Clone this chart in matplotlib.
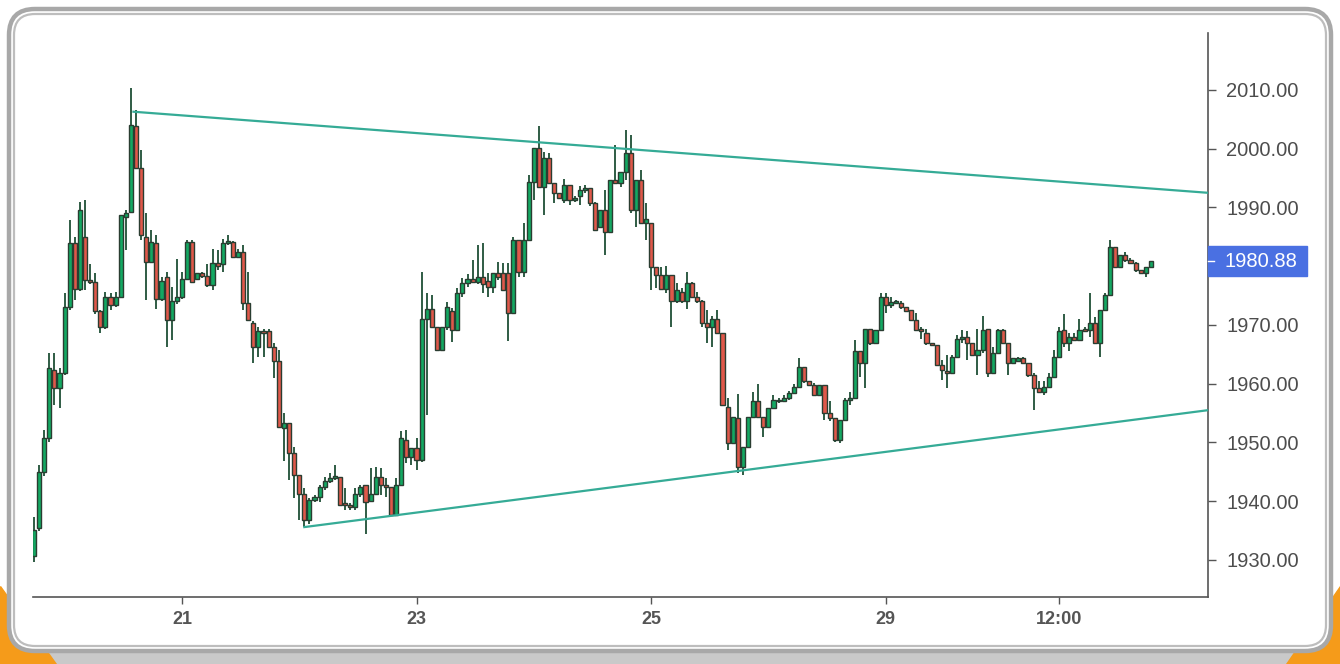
import matplotlib
matplotlib.use("Agg")
import numpy as np
import matplotlib.pyplot as plt
from matplotlib.patches import FancyBboxPatch, Polygon, Rectangle
from matplotlib import transforms

# hourly candles
opens = [1930.6, 1935.4, 1945.0, 1950.7, 1962.4, 1959.2, 1961.8, 1973.1, 1983.9, 1976.2,
         1985.0, 1977.7, 1977.4, 1972.3, 1969.7, 1974.8, 1973.4, 1974.8, 1988.4, 1989.3,
         2003.8, 1996.7, 1985.0, 1980.8, 1983.9, 1974.5, 1978.2, 1970.9, 1974.0, 1974.8,
         1977.9, 1984.2, 1977.9, 1978.8, 1978.3, 1976.8, 1980.5, 1980.3, 1983.9, 1984.2,
         1981.6, 1982.5, 1973.7, 1970.3, 1966.3, 1968.9, 1968.9, 1966.3, 1963.8, 1952.5,
         1953.3, 1948.2, 1944.5, 1941.3, 1936.8, 1940.2, 1940.8, 1942.5, 1943.4, 1944.0,
         1944.2, 1939.6, 1939.4, 1939.1, 1941.3, 1942.8, 1940.1, 1941.3, 1944.2, 1942.8,
         1942.5, 1937.7, 1942.8, 1950.4, 1947.6, 1949.0, 1947.0, 1971.1, 1972.7, 1969.7,
         1965.7, 1969.7, 1972.3, 1969.1, 1975.4, 1977.1, 1977.9, 1977.3, 1978.2, 1977.5,
         1976.5, 1978.8, 1978.8, 1978.8, 1972.0, 1984.5, 1979.1, 1984.5, 1994.4, 2000.1,
         1993.5, 1998.4, 1994.1, 1992.4, 1991.3, 1993.8, 1991.3, 1992.0, 1993.0, 1993.3,
         1990.7, 1986.7, 1989.6, 1985.9, 1994.7, 1994.1, 1996.1, 1999.2, 1989.6, 1994.7,
         1987.3, 1987.3, 1979.9, 1978.5, 1976.2, 1978.5, 1974.0, 1975.7, 1974.0, 1977.1,
         1974.8, 1974.0, 1970.3, 1969.7, 1971.1, 1968.6, 1956.1, 1949.9, 1954.1, 1945.9,
         1949.3, 1954.4, 1957.0, 1954.4, 1952.7, 1955.8, 1957.2, 1957.0, 1957.5, 1958.4,
         1959.5, 1962.9, 1960.4, 1959.8, 1958.1, 1959.8, 1955.0, 1954.1, 1950.4, 1953.8,
         1957.3, 1957.6, 1965.5, 1963.5, 1969.4, 1966.9, 1969.1, 1974.8, 1973.4, 1973.8,
         1973.7, 1973.1, 1972.5, 1970.9, 1969.4, 1968.6, 1966.9, 1966.6, 1963.2, 1962.1,
         1961.8, 1964.6, 1967.7, 1968.0, 1966.9, 1964.9, 1965.7, 1969.4, 1961.9, 1965.2,
         1969.1, 1966.9, 1963.5, 1963.8, 1964.3, 1963.5, 1961.5, 1959.2, 1958.6, 1959.5,
         1961.2, 1964.6, 1969.1, 1966.9, 1968.0, 1967.4, 1969.1, 1969.1, 1970.3, 1966.9,
         1972.5, 1975.1, 1983.3, 1979.9, 1981.9, 1981.1, 1980.5, 1979.4, 1978.8, 1979.9]
highs = [1937.4, 1946.2, 1952.1, 1965.2, 1965.2, 1962.6, 1975.4, 1987.9, 1985.0, 1991.0,
         1991.3, 1980.3, 1978.8, 1972.6, 1975.7, 1975.4, 1975.7, 1988.7, 1989.6, 2010.3,
         2006.6, 1999.8, 1989.0, 1986.2, 1985.3, 1978.2, 1979.0, 1976.4, 1981.3, 1979.1,
         1984.5, 1984.5, 1978.8, 1979.1, 1980.3, 1983.0, 1982.8, 1984.7, 1985.3, 1984.3,
         1983.0, 1983.6, 1979.1, 1970.6, 1969.7, 1969.4, 1969.4, 1966.9, 1965.7, 1955.0,
         1953.3, 1949.3, 1944.5, 1942.2, 1940.5, 1941.1, 1942.8, 1944.2, 1944.8, 1946.2,
         1944.2, 1942.2, 1939.7, 1942.2, 1942.8, 1942.8, 1945.6, 1945.9, 1945.6, 1943.9,
         1942.5, 1944.0, 1951.9, 1952.1, 1949.0, 1950.7, 1979.1, 1975.4, 1975.1, 1969.7,
         1969.7, 1973.9, 1972.9, 1976.3, 1978.0, 1978.6, 1981.1, 1983.6, 1983.9, 1978.8,
         1978.8, 1980.8, 1980.5, 1980.5, 1985.0, 1984.5, 1987.3, 1995.5, 2000.1, 2003.8,
         1999.5, 1999.2, 1994.1, 1992.4, 1994.9, 1993.8, 1991.9, 1993.7, 1993.8, 1993.3,
         1991.0, 1989.6, 1993.0, 1994.7, 2000.7, 1996.1, 2003.2, 2002.3, 1994.7, 1996.4,
         1990.7, 1987.3, 1979.9, 1979.9, 1980.1, 1978.5, 1977.1, 1976.3, 1979.1, 1977.4,
         1975.7, 1974.3, 1972.6, 1971.6, 1972.6, 1968.6, 1957.5, 1954.4, 1958.3, 1949.3,
         1954.4, 1958.6, 1959.9, 1954.4, 1955.8, 1958.1, 1957.5, 1958.1, 1958.8, 1960.0,
         1964.3, 1962.9, 1960.4, 1960.1, 1959.8, 1959.8, 1957.0, 1954.1, 1953.8, 1957.5,
         1958.6, 1967.4, 1965.5, 1969.4, 1969.4, 1969.1, 1975.4, 1975.4, 1974.8, 1974.2,
         1974.0, 1973.1, 1972.5, 1972.0, 1969.7, 1969.4, 1966.9, 1966.6, 1964.0, 1964.9,
         1964.9, 1968.3, 1969.1, 1968.9, 1966.9, 1969.4, 1971.6, 1969.4, 1966.3, 1969.4,
         1969.4, 1966.9, 1964.3, 1964.5, 1964.6, 1963.5, 1961.8, 1960.4, 1960.4, 1961.8,
         1965.7, 1969.7, 1971.9, 1968.6, 1968.6, 1971.1, 1969.7, 1975.4, 1971.4, 1972.5,
         1975.4, 1984.5, 1983.3, 1981.9, 1982.5, 1981.4, 1980.8, 1979.4, 1979.9, 1980.9]
lows = [1929.7, 1935.0, 1944.3, 1950.1, 1956.4, 1955.8, 1961.5, 1972.5, 1974.3, 1975.8,
        1976.0, 1976.9, 1971.9, 1968.6, 1969.4, 1972.5, 1973.1, 1974.6, 1982.8, 1989.0,
        1996.5, 1984.5, 1974.3, 1980.5, 1972.8, 1974.0, 1966.3, 1967.4, 1973.5, 1974.5,
        1977.6, 1977.1, 1977.6, 1978.0, 1976.5, 1976.0, 1979.4, 1979.1, 1983.6, 1981.4,
        1981.6, 1972.6, 1970.9, 1963.5, 1964.6, 1964.6, 1966.3, 1960.9, 1952.4, 1946.9,
        1943.6, 1940.5, 1936.8, 1935.7, 1936.2, 1939.9, 1939.9, 1941.9, 1943.1, 1943.7,
        1939.4, 1938.5, 1938.5, 1938.5, 1940.8, 1934.5, 1939.9, 1941.3, 1941.0, 1940.8,
        1937.7, 1937.7, 1942.8, 1946.5, 1946.2, 1945.3, 1946.7, 1954.7, 1969.7, 1965.5,
        1965.7, 1969.1, 1967.1, 1969.1, 1974.8, 1976.5, 1977.2, 1977.0, 1975.4, 1974.8,
        1975.4, 1977.7, 1976.0, 1967.2, 1972.0, 1978.2, 1978.2, 1984.5, 1991.3, 1993.5,
        1988.7, 1994.1, 1990.7, 1991.6, 1990.7, 1990.4, 1991.0, 1990.4, 1992.4, 1990.2,
        1986.0, 1986.7, 1981.9, 1985.9, 1994.4, 1993.5, 1994.7, 1989.0, 1986.7, 1987.3,
        1984.5, 1976.0, 1976.3, 1976.2, 1975.4, 1969.7, 1973.7, 1973.7, 1972.8, 1974.8,
        1973.7, 1969.7, 1966.9, 1966.3, 1968.6, 1956.4, 1948.8, 1949.9, 1944.8, 1944.5,
        1949.3, 1954.1, 1954.4, 1951.0, 1952.7, 1955.8, 1956.7, 1957.0, 1957.3, 1958.4,
        1959.5, 1960.1, 1959.8, 1958.1, 1958.1, 1953.8, 1953.6, 1950.1, 1949.9, 1953.8,
        1956.4, 1957.6, 1961.2, 1959.2, 1966.6, 1966.9, 1969.1, 1972.0, 1972.9, 1973.5,
        1972.8, 1972.3, 1970.9, 1969.1, 1967.7, 1966.6, 1966.6, 1963.2, 1960.6, 1959.2,
        1961.8, 1964.6, 1966.9, 1964.1, 1964.9, 1961.5, 1965.2, 1961.2, 1961.9, 1965.2,
        1966.9, 1961.5, 1963.5, 1963.8, 1963.5, 1961.2, 1955.5, 1958.6, 1958.1, 1959.5,
        1961.2, 1964.6, 1966.3, 1965.5, 1967.4, 1967.4, 1968.9, 1968.0, 1966.9, 1964.6,
        1972.5, 1975.1, 1979.9, 1979.9, 1980.8, 1980.5, 1979.1, 1978.8, 1978.2, 1979.9]
closes = [1935.1, 1945.0, 1950.7, 1962.6, 1959.2, 1961.8, 1973.1, 1983.9, 1976.2, 1989.6,
          1977.7, 1977.4, 1972.3, 1969.7, 1974.8, 1973.4, 1974.8, 1988.7, 1989.0, 2004.0,
          1996.7, 1985.3, 1980.8, 1984.2, 1974.5, 1977.5, 1970.9, 1974.0, 1974.8, 1977.9,
          1984.2, 1977.4, 1978.8, 1978.3, 1976.8, 1980.5, 1980.0, 1983.9, 1984.3, 1981.6,
          1982.5, 1973.7, 1970.9, 1966.3, 1968.9, 1968.6, 1966.3, 1963.8, 1952.7, 1953.3,
          1948.2, 1944.5, 1941.3, 1936.8, 1940.2, 1940.8, 1942.5, 1943.4, 1944.0, 1944.2,
          1939.4, 1939.4, 1939.1, 1941.3, 1942.5, 1939.9, 1941.3, 1944.2, 1942.8, 1942.5,
          1937.7, 1942.8, 1950.7, 1947.6, 1949.0, 1947.0, 1971.1, 1972.7, 1969.7, 1965.7,
          1969.7, 1973.1, 1969.1, 1975.4, 1977.1, 1977.9, 1977.3, 1978.2, 1977.0, 1976.5,
          1978.8, 1978.2, 1976.0, 1972.0, 1984.5, 1979.1, 1984.5, 1994.4, 2000.1, 1993.5,
          1998.4, 1994.1, 1992.4, 1991.6, 1993.8, 1991.3, 1991.6, 1993.0, 1993.3, 1990.7,
          1986.2, 1989.6, 1985.9, 1994.7, 1994.1, 1996.1, 1999.2, 1989.6, 1994.7, 1987.3,
          1988.0, 1979.9, 1978.5, 1976.2, 1978.5, 1974.0, 1976.0, 1974.0, 1977.1, 1974.8,
          1974.0, 1970.3, 1969.7, 1971.1, 1968.6, 1956.4, 1949.9, 1954.4, 1945.9, 1949.3,
          1954.4, 1957.0, 1954.4, 1952.7, 1955.8, 1957.2, 1957.0, 1957.5, 1958.4, 1959.5,
          1962.9, 1960.4, 1959.8, 1958.1, 1959.8, 1955.0, 1954.1, 1950.4, 1953.8, 1957.3,
          1957.6, 1965.5, 1963.5, 1969.4, 1966.9, 1969.1, 1974.8, 1973.4, 1973.9, 1973.8,
          1973.1, 1972.3, 1970.9, 1969.1, 1968.9, 1966.9, 1966.6, 1963.2, 1962.3, 1961.8,
          1964.6, 1967.7, 1968.0, 1966.9, 1964.9, 1965.7, 1969.1, 1961.9, 1965.2, 1969.1,
          1966.9, 1963.5, 1964.3, 1964.3, 1963.5, 1961.5, 1959.2, 1958.6, 1959.5, 1961.2,
          1964.6, 1968.9, 1966.9, 1968.0, 1967.4, 1969.1, 1969.0, 1970.3, 1966.9, 1972.5,
          1975.1, 1983.3, 1979.9, 1981.9, 1981.1, 1980.5, 1979.4, 1978.8, 1979.9, 1980.88]

tick_pos = [29, 75, 121, 167, 201]
tick_labels = ["21", "23", "25", "29", "12:00"]
price_ticks = [1930, 1940, 1950, 1960, 1970, 1980, 1990, 2000, 2010]

# trend lines (candle index, price)
upper_x = [19.5, 230.2]
upper_y = [2006.3, 1992.5]
lower_x = [53, 230.2]
lower_y = [1935.6, 1955.5]

last_price = 1980.88

W, H = 1340, 664
fig = plt.figure(figsize=(W / 100, H / 100), dpi=100)
fig.patch.set_facecolor("white")

# frame decoration
bg = fig.add_axes([0, 0, 1, 1], zorder=-5)
bg.set_xlim(0, W)
bg.set_ylim(H, 0)
bg.axis("off")
bg.add_patch(Rectangle((0, 650), W, 14, color="#c9c9c9"))
bg.add_patch(Polygon([(0, 586), (0, 664), (56, 664)], color="#f59b1a"))
bg.add_patch(Polygon([(W, 586), (W, 664), (1286, 664)], color="#f59b1a"))
bg.add_patch(FancyBboxPatch((9, 9), W - 18, H - 22, boxstyle="round,pad=0,rounding_size=26",
                            facecolor="white", edgecolor="#a8a8a8", lw=3.2))
bg.add_patch(FancyBboxPatch((14, 14), W - 28, H - 32, boxstyle="round,pad=0,rounding_size=21",
                            facecolor="white", edgecolor="#bdbdbd", lw=1.6))

ax = fig.add_axes([33 / W, 1 - 597 / H, (1208 - 33) / W, (597 - 33) / H])
ax.set_facecolor("none")

x = np.arange(len(closes))
o = np.array(opens)
c = np.array(closes)
up = c >= o
green = "#13a862"
red = "#e0584a"
edge = "#2a3d31"

ax.vlines(x, lows, highs, color="#2f5c44", lw=1.4, zorder=2)
bottoms = np.minimum(o, c)
heights = np.maximum(np.abs(c - o), 0.3)
ax.bar(x, heights, bottom=bottoms, width=0.8,
       color=np.where(up, green, red), edgecolor=edge, linewidth=1.0, zorder=3)

ax.plot(upper_x, upper_y, color="#35ab96", lw=1.6, zorder=4)
ax.plot(lower_x, lower_y, color="#35ab96", lw=1.6, zorder=4)

ax.set_xlim(-0.2, 230.2)
ax.set_ylim(1923.7, 2019.7)

for s in ["left", "top"]:
    ax.spines[s].set_visible(False)
ax.spines["right"].set_color("#555555")
ax.spines["bottom"].set_color("#555555")
ax.spines["right"].set_linewidth(1.2)
ax.spines["bottom"].set_linewidth(1.2)

ax.yaxis.tick_right()
ax.set_yticks(price_ticks)
# the 1980 label sits under the last-price tag
ax.set_yticklabels(["" if v == 1980 else "%.2f" % v for v in price_ticks], fontsize=14.5,
                   color="#4d4d4d", family="Liberation Sans")
ax.set_xticks(tick_pos)
ax.set_xticklabels(tick_labels, fontsize=13, fontweight="bold",
                   color="#555555", family="Liberation Sans")
ax.tick_params(axis="y", length=6, width=1, color="#555555", pad=7)
ax.tick_params(axis="x", length=5, width=1, color="#555555", pad=5)

# last price tag
tr = transforms.blended_transform_factory(fig.transFigure, ax.transData)
ax.add_patch(Rectangle((1208 / W, last_price - 2.55), 99 / W, 5.1, transform=tr,
                       color="#4a70e2", clip_on=False, zorder=6))
ax.plot([1208 / W, 1214 / W], [last_price, last_price], transform=tr, color="white",
        lw=1, clip_on=False, zorder=7)
ax.text(1261 / W, last_price, "%.2f" % last_price, transform=tr, ha="center", va="center",
        color="white", fontsize=14.5, family="Liberation Sans", zorder=7, clip_on=False)

fig.savefig("out.png", dpi=100, facecolor=fig.get_facecolor())
